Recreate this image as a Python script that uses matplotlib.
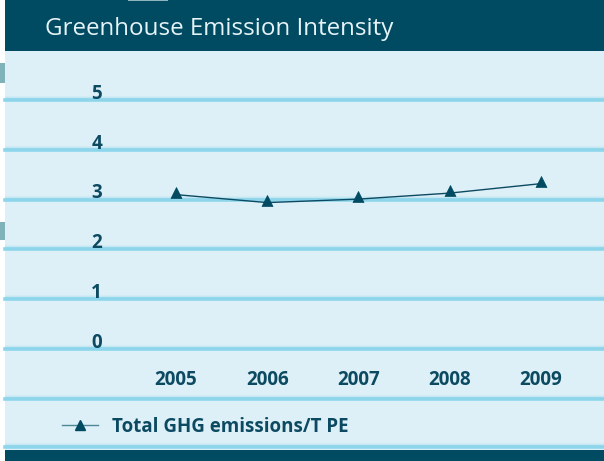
import matplotlib
matplotlib.use('Agg')
import matplotlib.pyplot as plt
import matplotlib.transforms as mtransforms
from matplotlib.lines import Line2D
from matplotlib.patches import Rectangle
from matplotlib.path import Path

plt.rcParams['font.family'] = ['Open Sans', 'DejaVu Sans']

years = [2005, 2006, 2007, 2008, 2009]
ghg = [3.10, 2.94, 3.01, 3.13, 3.32]
yticks = [0, 1, 2, 3, 4, 5]
title = 'Greenhouse Emission Intensity'
series_label = 'Total GHG emissions/T PE'

dark = '#004a62'
text_col = '#0c4a62'
bg = '#ddf0f7'
grid_col = '#8dd5eb'
fs = 13.5

W, H = 604, 461
fig = plt.figure(figsize=(W / 100, H / 100), dpi=100)
fig.patch.set_facecolor('white')

def fx(px):
    return px / W

def fy(px):
    return 1 - px / H

def panel(x0, top, w, h, color):
    fig.patches.append(Rectangle((fx(x0), fy(top + h)), fx(w), h / H, transform=fig.transFigure,
                                 facecolor=color, edgecolor='none', zorder=-10))

# page panels
panel(5, 51, 599, 399, bg)
panel(5, 0, 599, 51, dark)
panel(5, 450, 599, 11, dark)
# bits of the neighbouring page showing at the edges
panel(0, 63, 5, 20, '#80b2ba')
panel(0, 222, 5, 18, '#80b2ba')
panel(128, 0, 40, 1.5, '#8fb3bd')

fig.text(fx(45), fy(35), title, color='#e6f3f7', fontsize=17.4, va='baseline', ha='left')

# plot area: x from 5 px to 604 px, y 0 at 349 px, 5 at 100 px
ax = fig.add_axes([fx(5), fy(349), fx(599), fy(100) - fy(349)])
ax.set_facecolor('none')
ax.set_ylim(0, 5)
step = (540.7 - 176) / 4
ax.set_xlim(2005 - (176 - 5) / step, 2009 + (604 - 540.7) / step)
for s in ax.spines.values():
    s.set_visible(False)


def band(y, trans):
    # soft fade above a solid line, like the original gradient rules
    for dy, c in [(4, '#d3edf6'), (3, '#c6e8f4'), (2, '#b6e2f1'), (1, '#a5dcef')]:
        t = mtransforms.offset_copy(trans, fig=fig, x=0, y=dy * 0.72, units='points')
        ax.add_line(Line2D([0, 1], [y, y], transform=t, color=c, lw=0.75, clip_on=False, zorder=1))
    ax.add_line(Line2D([0, 1], [y, y], transform=trans, color=grid_col, lw=2.6, clip_on=False, zorder=1))


ytrans = ax.get_yaxis_transform()
for v in yticks:
    band(v, ytrans)
sep_trans = mtransforms.blended_transform_factory(ax.transAxes, fig.transFigure)
band(fy(398.5), sep_trans)
band(fy(447), sep_trans)

ax.set_yticks([])
lab_trans = mtransforms.offset_copy(ytrans, fig=fig, x=0, y=0.8, units='points')
for v in yticks:
    ax.text((96.5 - 5) / 599, v, str(v), transform=lab_trans, ha='center', va='baseline',
            fontsize=fs, fontweight='bold', color=text_col, zorder=2)

ax.set_xticks(years)
ax.set_xticklabels([str(y) for y in years], fontsize=fs, fontweight='bold', color=text_col)
ax.tick_params(axis='x', length=0, pad=15)

tri = Path([(0, 8), (-5.5, -3), (5.5, -3), (0, 8)],
           [Path.MOVETO, Path.LINETO, Path.LINETO, Path.CLOSEPOLY])
ax.plot(years, ghg, color='#0d4a62', lw=1.0, marker=tri, markersize=11.5,
        markerfacecolor=dark, markeredgecolor=dark, markeredgewidth=0.5, zorder=3, clip_on=False)

handle = Line2D([], [], color='#4f8799', lw=1.0, marker='^', markersize=7,
                markerfacecolor=dark, markeredgecolor=dark)
leg = ax.legend(handles=[handle], labels=[series_label], loc='center left',
                bbox_to_anchor=(fx(61.5), fy(426.5)), bbox_transform=fig.transFigure,
                frameon=False, borderpad=0, borderaxespad=0, handlelength=1.95, handletextpad=0.72,
                prop={'size': fs, 'weight': 'bold'})
for t in leg.get_texts():
    t.set_color(text_col)

fig.savefig('out.png', dpi=100)
